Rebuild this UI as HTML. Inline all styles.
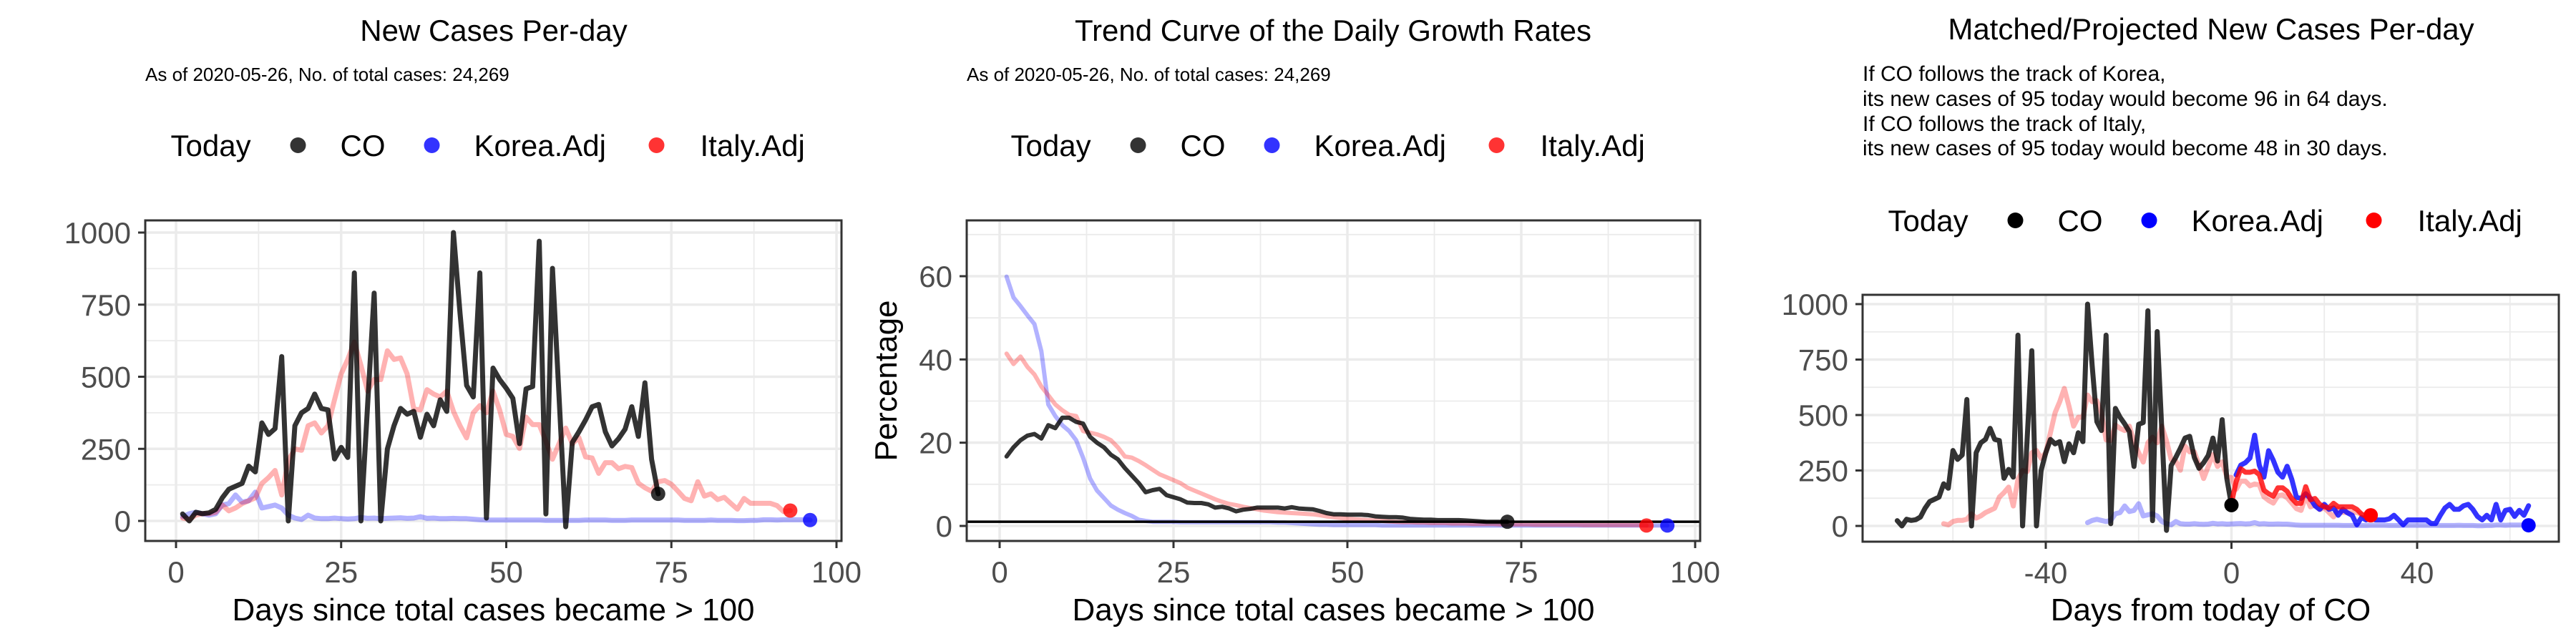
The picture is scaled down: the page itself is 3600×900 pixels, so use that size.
<!DOCTYPE html>
<html><head><meta charset="utf-8"><title>CO covid charts</title>
<style>
html,body{margin:0;padding:0;background:#fff;}
svg{display:block;font-family:"Liberation Sans",Arial,sans-serif;}
</style></head>
<body>
<svg id="root" xmlns="http://www.w3.org/2000/svg" width="3600" height="900" viewBox="0 0 3600 900">
<rect x="0" y="0" width="3600" height="900" fill="#fff"/>
<text x="690" y="57" font-size="42" text-anchor="middle">New Cases Per-day</text>
<text x="203" y="113" font-size="26">As of 2020-05-26, No. of total cases: 24,269</text>
<text x="1863" y="57" font-size="42" text-anchor="middle">Trend Curve of the Daily Growth Rates</text>
<text x="1351" y="113" font-size="26">As of 2020-05-26, No. of total cases: 24,269</text>
<text x="3090" y="55" font-size="42" text-anchor="middle">Matched/Projected New Cases Per-day</text>
<g font-size="30">
<text x="2603" y="113">If CO follows the track of Korea,</text>
<text x="2603" y="148">its new cases of 95 today would become 96 in 64 days.</text>
<text x="2603" y="183">If CO follows the track of Italy,</text>
<text x="2603" y="217">its new cases of 95 today would become 48 in 30 days.</text>
</g>
</svg>
<script>
// ---- Data ----
const coCases = [24,0,30,25,28,40,80,110,120,130,190,170,340,300,320,570,0,330,375,390,440,390,385,215,255,220,860,0,400,790,0,250,330,390,370,380,290,370,330,420,380,1000,720,470,430,860,10,530,490,460,425,268,458,466,970,24,876,430,-20,272,309,350,396,404,309,260,285,318,396,293,479,214,94];
const italyCases = [10,5,20,25,25,30,55,35,45,60,70,80,130,150,175,90,210,250,245,330,340,305,330,420,510,560,620,540,450,490,490,590,560,565,510,388,385,455,440,430,450,380,330,288,375,400,375,450,384,300,293,251,360,334,334,276,214,268,322,268,289,222,218,165,202,202,181,189,185,131,115,103,136,140,127,103,78,70,136,86,94,74,82,61,41,78,61,61,61,61,53,32,36];
const koreaCases = [15,25,30,25,20,25,55,60,90,65,70,100,45,50,55,45,20,10,5,20,10,8,8,10,8,7,8,12,9,10,8,9,10,11,9,10,15,9,10,8,8,9,8,8,6,4,3,3,3,3,3,3,3,3,3,2,2,2,2,2,2,3,3,3,3,2,2,2,3,3,3,3,3,3,3,3,2,2,2,2,3,2,2,2,1,1,2,2,4,4,3,4,4,4,4,3];
const coRate = [16.7,18.9,20.6,21.7,22.1,21,24.2,23.5,26,26,25,24.6,21.4,20,18.9,17.1,16,13.9,12.1,10.3,8.1,8.6,8.9,7.4,6.9,6.4,5.6,5.5,5.5,5.2,4.4,4.6,4.2,3.5,3.9,4.1,4.4,4.4,4.4,4.4,4.2,4.5,4.2,4.1,4.0,3.6,3.1,2.8,2.8,2.7,2.7,2.7,2.6,2.3,2.2,2.1,2.1,2.0,1.7,1.6,1.5,1.5,1.4,1.4,1.4,1.4,1.3,1.2,1.1,1.0,1.0,1.0,1.0];
const koreaRate = [59.9,54.9,52.8,50.6,48.5,42,29.2,26.4,24.2,22.8,20.6,16.4,11.4,8.5,6.7,4.9,3.9,3.1,2.4,1.5,1.2,1.0,1.0,1.0,1.0,0.9,0.9,0.9,0.9,0.9,0.9,0.9,0.9,0.9,0.9,0.9,0.9,0.9,0.9,0.8,0.8,0.7,0.6,0.5,0.4,0.3,0.3,0.2,0.2,0.2,0.2,0.2,0.2,0.2,0.1,0.1,0.1,0.1,0.1,0.1,0.1,0.1,0.1,0.1,0.1,0.1,0.1,0.1,0.1,0.1,0.1,0.1,0.1,0.1,0.1,0.1,0.1,0.1,0.1,0.1,0.1,0.1,0.1,0.1,0.1,0.1,0.1,0.1,0.1,0.1,0.1,0.1,0.1,0.1,0.1,0.1];
const italyRate = [41.4,38.9,40.7,38.2,36.4,33.5,31.4,29.2,27.8,26.7,26.4,22.8,22.4,22,21.4,20.6,18.9,16.7,16.4,15.6,14.6,13.5,12.4,11.7,11,10.3,9.2,8.5,7.8,7.1,6.4,5.8,5.3,5.0,4.6,4.3,4.0,3.7,3.5,3.3,3.2,3.1,3.0,2.9,2.8,2.6,2.3,2.1,1.9,1.7,1.6,1.5,1.4,1.3,1.2,1.1,1.0,0.9,0.9,0.8,0.8,0.7,0.7,0.7,0.6,0.6,0.6,0.5,0.5,0.5,0.5,0.4,0.4,0.4,0.4,0.4,0.3,0.3,0.3,0.3,0.3,0.3,0.3,0.2,0.2,0.2,0.2,0.2,0.2,0.2,0.2,0.2,0.1];
const italyProj = [102,199,258,242,242,247,231,161,145,134,172,172,156,124,102,102,177,118,124,97,86,81,102,86,86,86,86,75,54,43,48];
const koreaProj = [230,274,285,306,409,274,220,339,296,242,220,269,210,129,124,145,124,91,75,97,75,81,48,75,59,48,5,38,27,38,27,27,27,32,48,27,5,27,27,27,27,27,11,11,48,81,97,75,75,91,97,75,43,27,48,27,97,27,70,75,43,70,48,91];
const coToday = 73, italyMatchDay = 63, koreaMatchDay = 32;
const casesTicks = [0,250,500,750,1000];
const rateTicks = [0,20,40,60];
const dayTicks = [0,25,50,75,100];
const relTicks = [-40,0,40];
const refLine = 1.0;

const NS = "http://www.w3.org/2000/svg";
const root = document.getElementById('root');
function mk(tag, attrs, parent) {
  const e = document.createElementNS(NS, tag);
  for (const k in attrs) e.setAttribute(k, attrs[k]);
  (parent || root).appendChild(e);
  return e;
}
function lin(d0, d1, r0, r1) { return v => r0 + (v - d0) * (r1 - r0) / (d1 - d0); }

function panel(cfg) {
  const g = mk('g', {});
  
  
  const {L, R, T, B, sx, sy} = cfg;
  cfg.yMinor.forEach(v => { mk('line', {x1:L,x2:R,y1:sy(v),y2:sy(v),stroke:'#EBEBEB','stroke-width':1.8}, g); });
  cfg.xMinor.forEach(v => { mk('line', {x1:sx(v),x2:sx(v),y1:T,y2:B,stroke:'#EBEBEB','stroke-width':1.8}, g); });
  cfg.yTicks.forEach(v => { mk('line', {x1:L,x2:R,y1:sy(v),y2:sy(v),stroke:'#EBEBEB','stroke-width':3.5}, g); });
  cfg.xTicks.forEach(v => { mk('line', {x1:sx(v),x2:sx(v),y1:T,y2:B,stroke:'#EBEBEB','stroke-width':3.5}, g); });
  const cp = mk('clipPath', {id: cfg.name + '-clip'}, g);
  mk('rect', {x:L, y:T, width:R-L, height:B-T}, cp);
  const plot = mk('g', {'clip-path': 'url(#' + cfg.name + '-clip)'}, g);
  cfg.draw(plot);
  mk('rect', {x:L, y:T, width:R-L, height:B-T, fill:'none', stroke:'#333', 'stroke-width':3}, g);
  cfg.yTicks.forEach(v => {
    mk('line', {x1:L-10,x2:L,y1:sy(v),y2:sy(v),stroke:'#333','stroke-width':3}, g);
    const t = mk('text', {x:L-20, y:sy(v)+15, 'font-size':42, fill:'#4D4D4D', 'text-anchor':'end'}, g);
    
    
    t.textContent = v;
  });
  cfg.xTicks.forEach(v => {
    mk('line', {x1:sx(v),x2:sx(v),y1:B,y2:B+10,stroke:'#333','stroke-width':3}, g);
    const t = mk('text', {x:sx(v), y:B+58, 'font-size':42, fill:'#4D4D4D', 'text-anchor':'middle'}, g);
    
    
    t.textContent = v;
  });
  const xt = mk('text', {x:(L+R)/2, y:867, 'font-size':44, 'text-anchor':'middle'}, g);
  
  
  xt.textContent = cfg.xTitle;
  if (cfg.yTitle) {
    const yt = mk('text', {x:0, y:0, 'font-size':44, 'text-anchor':'middle', transform:'translate(1253,' + ((T+B)/2) + ') rotate(-90)'}, g);
    
    
    yt.textContent = cfg.yTitle;
  }
  const cx = (L + R) / 2 - 451, ly = cfg.legendY;
  const lg = mk('g', {'font-size':42}, g);
  
  
  const lt = mk('text', {x:cx, y:ly}, lg); lt.textContent = 'Today';
  const items = [['CO', cfg.dotCols[0], 178, 237], ['Korea.Adj', cfg.dotCols[1], 365, 424], ['Italy.Adj', cfg.dotCols[2], 679, 740]];
  items.forEach(it => {
    const c = mk('circle', {cx:cx+it[2], cy:ly-15, r:11, fill:it[1]}, lg);
    
    
    const t = mk('text', {x:cx+it[3], y:ly}, lg);
    
    
    t.textContent = it[0];
  });
}

function series(parent, vals, xOf, sx, sy, color, w, name) {
  const pts = vals.map((v, i) => sx(xOf(i)).toFixed(1) + ',' + sy(v).toFixed(1)).join(' ');
  const p = mk('polyline', {points:pts, fill:'none', stroke:color, 'stroke-width':w, 'stroke-linejoin':'round', 'stroke-linecap':'round'}, parent);
  
  
  return p;
}
function dot(parent, x, y, color, name) {
  const c = mk('circle', {cx:x, cy:y, r:10, fill:color}, parent);
  
  
}

const FR = 'rgba(255,0,0,0.3)', FB = 'rgba(0,0,255,0.3)', CO = 'rgba(0,0,0,0.8)';

(function(){
  const sx = lin(0, 100, 246, 1169), sy = lin(0, 1000, 728, 325);
  panel({name:'panel1-new-cases', L:203, R:1176, T:308, B:756, sx, sy,
    yTicks:casesTicks, xTicks:dayTicks, yMinor:[125,375,625,875], xMinor:[12.5,37.5,62.5,87.5],
    xTitle:'Days since total cases became > 100', legendY:218,
    dotCols:['rgba(0,0,0,0.8)','rgba(0,0,255,0.8)','rgba(255,0,0,0.8)'],
    draw:function(p){
      series(p, koreaCases, i => i+1, sx, sy, FB, 7, 'korea-adj-line');
      series(p, italyCases, i => i+1, sx, sy, FR, 7, 'italy-adj-line');
      series(p, coCases, i => i+1, sx, sy, CO, 7, 'co-line');
      dot(p, sx(coCases.length), sy(coCases[coCases.length-1]), 'rgba(0,0,0,0.8)', 'co-today-dot');
      dot(p, sx(italyCases.length), sy(italyCases[italyCases.length-1]), 'rgba(255,0,0,0.8)', 'italy-today-dot');
      dot(p, sx(koreaCases.length), sy(koreaCases[koreaCases.length-1]), 'rgba(0,0,255,0.8)', 'korea-today-dot');
    }});
})();

(function(){
  const sx = lin(0, 100, 1397, 2369), sy = lin(0, 60, 735, 386);
  panel({name:'panel2-growth-rates', L:1351, R:2376, T:308, B:756, sx, sy,
    yTicks:rateTicks, xTicks:dayTicks, yMinor:[10,30,50,70], xMinor:[12.5,37.5,62.5,87.5],
    xTitle:'Days since total cases became > 100', yTitle:'Percentage', legendY:218,
    dotCols:['rgba(0,0,0,0.8)','rgba(0,0,255,0.8)','rgba(255,0,0,0.8)'],
    draw:function(p){
      series(p, koreaRate, i => i+1, sx, sy, FB, 6, 'korea-rate-line');
      series(p, italyRate, i => i+1, sx, sy, FR, 6, 'italy-rate-line');
      series(p, coRate, i => i+1, sx, sy, CO, 6, 'co-rate-line');
      const h = mk('line', {x1:1351, x2:2376, y1:sy(refLine), y2:sy(refLine), stroke:'#000', 'stroke-width':3.5}, p);
      
      
      dot(p, sx(coRate.length), sy(coRate[coRate.length-1]), 'rgba(0,0,0,0.8)', 'co-today-dot');
      dot(p, sx(italyRate.length), sy(italyRate[italyRate.length-1]), 'rgba(255,0,0,0.8)', 'italy-today-dot');
      dot(p, sx(koreaRate.length), sy(koreaRate[koreaRate.length-1]), 'rgba(0,0,255,0.8)', 'korea-today-dot');
    }});
})();

(function(){
  const sx = lin(-40, 40, 2859, 3378), sy = lin(0, 1000, 735, 425);
  panel({name:'panel3-projected', L:2603, R:3576, T:412, B:757, sx, sy,
    yTicks:casesTicks, xTicks:relTicks, yMinor:[125,375,625,875], xMinor:[-60,-20,20,60],
    xTitle:'Days from today of CO', legendY:323,
    dotCols:['#000','#00f','#f00'],
    draw:function(p){
      series(p, koreaCases, i => i+1-koreaMatchDay, sx, sy, FB, 7, 'korea-adj-line');
      series(p, italyCases, i => i+1-italyMatchDay, sx, sy, FR, 7, 'italy-adj-line');
      series(p, coCases, i => i+1-coToday, sx, sy, CO, 7, 'co-line');
      series(p, koreaProj, i => i+1, sx, sy, 'rgba(0,0,255,0.8)', 7, 'korea-projection-line');
      series(p, italyProj, i => i, sx, sy, 'rgba(255,0,0,0.8)', 7, 'italy-projection-line');
      dot(p, sx(0), sy(coCases[coCases.length-1]), '#000', 'co-today-dot');
      dot(p, sx(italyProj.length-1), sy(italyProj[italyProj.length-1]), '#f00', 'italy-projected-dot');
      dot(p, sx(koreaCases.length-koreaMatchDay), sy(koreaCases[koreaCases.length-1]), '#00f', 'korea-projected-dot');
    }});
})();
</script>
</body></html>
